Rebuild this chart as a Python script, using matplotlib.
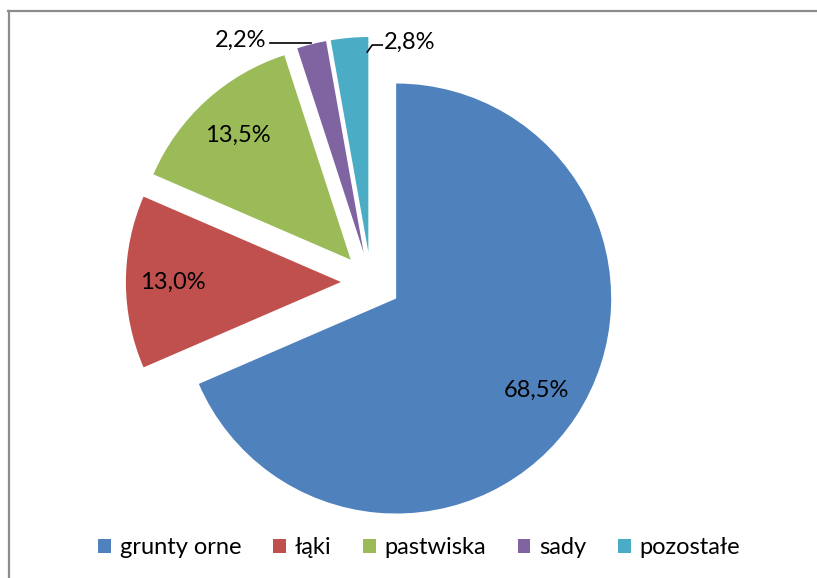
import numpy as np
import matplotlib
matplotlib.use("Agg")
import matplotlib.pyplot as plt
from matplotlib.patches import Patch
from matplotlib.lines import Line2D

categories = ["grunty orne", "łąki", "pastwiska", "sady", "pozostałe"]
values = [68.5, 13.0, 13.5, 2.2, 2.8]
labels = ["68,5%", "13,0%", "13,5%", "2,2%", "2,8%"]
colors = ["#4F81BD", "#C0504D", "#9BBB59", "#8064A2", "#4BACC6"]

plt.rcParams['font.family'] = ['Lato', 'DejaVu Sans']

W, H = 817, 578
fig = plt.figure(figsize=(W / 100, H / 100), dpi=100)
ax = fig.add_axes([0, 0, 1, 1])
ax.set_xlim(0, W)
ax.set_ylim(0, H)
ax.axis('off')

cx, cy = 371, H - 282
R = 215
explode_frac = 0.14
wedges, _ = ax.pie(values, colors=colors, startangle=90, counterclock=False,
                   explode=[explode_frac * R] * len(values), radius=R, center=(cx, cy),
                   wedgeprops=dict(linewidth=0))
ax.set_xlim(0, W)
ax.set_ylim(0, H)
ax.set_aspect('auto')

fs = 17
for i, w in enumerate(wedges):
    th = np.deg2rad((w.theta1 + w.theta2) / 2)
    ccx, ccy = w.center
    if values[i] > 5:
        d = 0.78 * R
        ax.text(ccx + d * np.cos(th), ccy + d * np.sin(th), labels[i],
                ha='center', va='center', fontsize=fs, color='black')

# small slices: outside labels with leader lines
w3 = wedges[3]
th3 = np.deg2rad((w3.theta1 + w3.theta2) / 2)
p3 = (w3.center[0] + R * np.cos(th3), w3.center[1] + R * np.sin(th3))
ax.add_line(Line2D([p3[0] - 42, p3[0] - 1], [p3[1] + 1, p3[1] + 1], color='black', lw=1.2))
ax.text(p3[0] - 45, p3[1] + 4, labels[3], ha='right', va='center', fontsize=fs)

w4 = wedges[4]
th4 = np.deg2rad(w4.theta1 + 0.3)
p4 = (w4.center[0] + R * np.cos(th4), w4.center[1] + R * np.sin(th4) - 15)
ax.add_line(Line2D([p4[0], p4[0] + 5, p4[0] + 15], [p4[1], p4[1] + 7, p4[1] + 7],
                   color='black', lw=1.2))
ax.text(p4[0] + 17, p4[1] + 10, labels[4], ha='left', va='center', fontsize=fs)

# chart border (top and left)
ax.add_line(Line2D([8, W], [H - 10.5, H - 10.5], color='#8C8C8C', lw=1.6))
ax.add_line(Line2D([9, 9], [0, H - 10.5], color='#8C8C8C', lw=1.6))

handles = [Patch(facecolor=c, edgecolor='none') for c in colors]
leg = ax.legend(handles, categories, loc='center', bbox_to_anchor=(419 / W, 1 - 548 / H),
                ncol=5, frameon=False, fontsize=fs, handlelength=0.55, handleheight=0.55,
                handletextpad=0.35, columnspacing=1.35, borderaxespad=0)

fig.savefig("out.png", dpi=100)
